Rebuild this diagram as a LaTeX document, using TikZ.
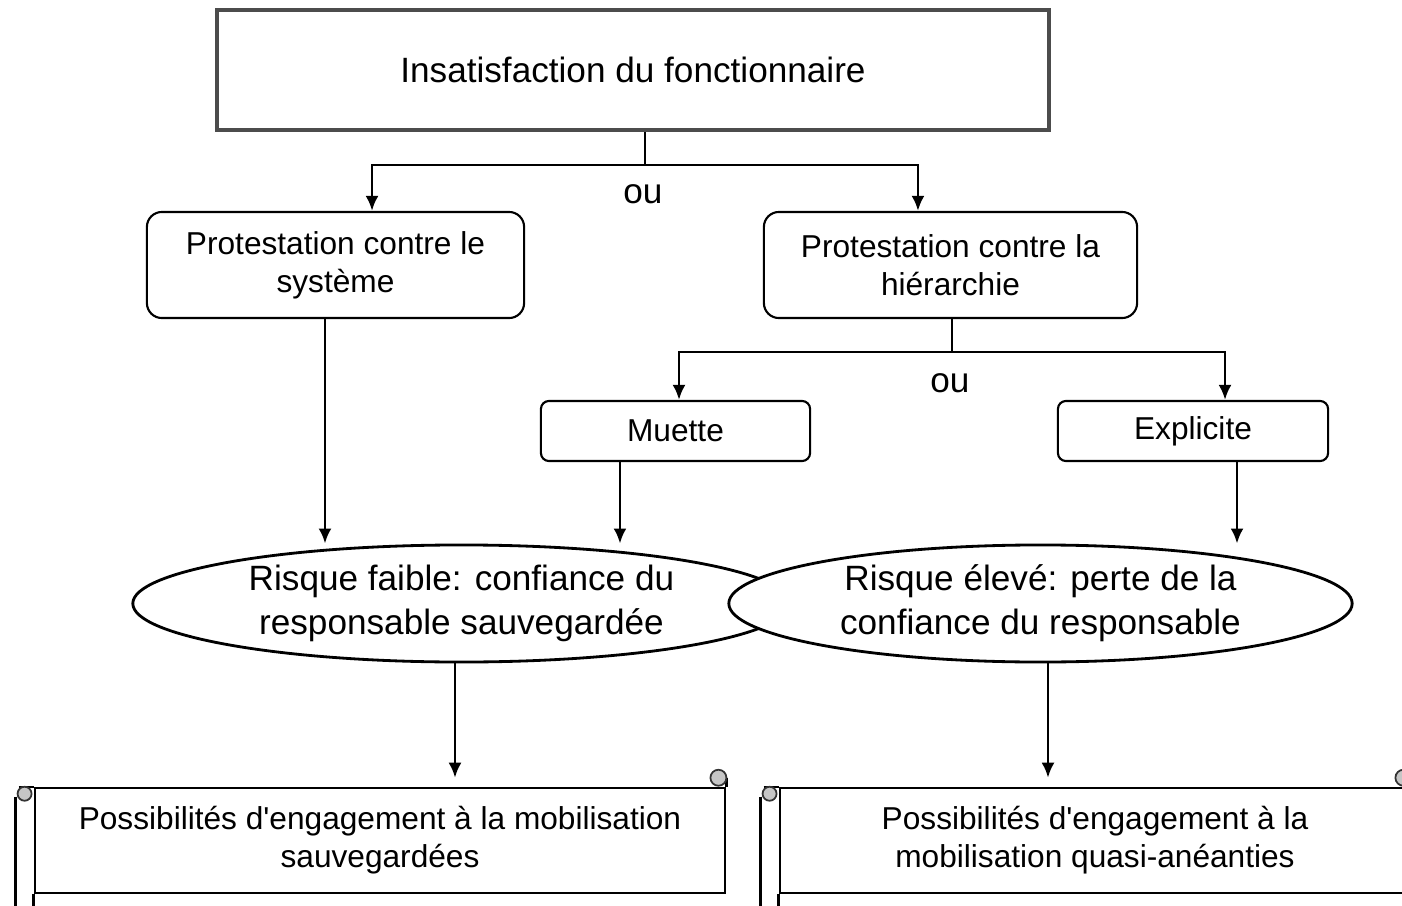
\documentclass[tikz,border=0pt]{standalone}
\usepackage{fontspec}
\setmainfont{Liberation Sans}
\usetikzlibrary{positioning, shapes.geometric, arrows.meta, calc}

\begin{document}
\begin{tikzpicture}[
	x=0.01cm, y=-0.01cm,
	topbox/.style={draw=black!70, line width=1.2pt, fill=white, minimum width=8.32cm, minimum height=1.2cm, font=\fontsize{10}{12}\selectfont},
	box/.style={draw, line width=0.6pt, fill=white, rounded corners=0.15cm, align=center, inner sep=0pt, font=\fontsize{9}{10.8}\selectfont},
	risk/.style={ellipse, draw, line width=0.8pt, fill=white, align=center, minimum height=1.17cm, inner sep=0pt, font=\fontsize{10}{12.5}\selectfont},
	scroll/.style={draw, line width=0.7pt, fill=white, align=center, minimum height=1.05cm, inner sep=0pt, font=\fontsize{9}{10.8}\selectfont},
	ou/.style={fill=white, inner sep=3pt, font=\fontsize{10}{12}\selectfont},
	arrow/.style={-{Latex[length=1.5mm,width=1.3mm]}, line width=0.8pt},
	link/.style={line width=0.8pt},
	roll/.style={line width=0.7pt},
	curl/.style={line width=0.5pt, draw=black!80, fill=gray!45}
	]
	\useasboundingbox (0,0) rectangle (1402,906);
	
	% Top
	\node[topbox] (top) at (633,70) {Insatisfaction du fonctionnaire};
	
	% First split
	\node[box, minimum width=3.77cm, minimum height=1.06cm] (sys) at (335.5,265) {Protestation contre le\\système};
	\node[box, minimum width=3.73cm, minimum height=1.06cm] (hier) at (950.5,265) {Protestation contre la\\hiérarchie};
	\coordinate (s1) at (645,165);
	\draw[link] (top.south -| s1) -- (s1);
	\draw[arrow] (s1) -| ([xshift=0.365cm]sys.north);
	\draw[arrow] (s1) -| ([xshift=-0.325cm]hier.north);
	\node[ou] (ou1) at (643,194) {ou};
	
	% Second split
	\node[box, rounded corners=0.08cm, minimum width=2.69cm, minimum height=0.6cm] (muette) at (675.5,431) {Muette};
	\node[box, rounded corners=0.08cm, minimum width=2.7cm, minimum height=0.6cm] (expl) at (1193,431) {Explicite};
	\coordinate (s2) at (952,352);
	\draw[link] (hier.south -| s2) -- (s2);
	\draw[arrow] (s2) -| ([xshift=0.035cm]muette.north);
	\draw[arrow] (s2) -| ([xshift=0.32cm]expl.north);
	\node[ou] (ou2) at (950,383) {ou};
	
	% Risks
	\node[risk, minimum width=6.57cm] (low) at (461.5,603.5) {Risque faible: confiance du\\responsable sauvegardée};
	\node[risk, minimum width=6.23cm] (high) at (1040.5,603.5) {Risque élevé: perte de la\\confiance du responsable};
	\draw[arrow] ([xshift=-0.105cm]sys.south) -- ([xshift=-0.105cm]sys.south |- low.north);
	\draw[arrow] ([xshift=-0.555cm]muette.south) -- ([xshift=-0.555cm]muette.south |- low.north);
	\draw[arrow] ([xshift=0.44cm]expl.south) -- ([xshift=0.44cm]expl.south |- high.north);
	
	% Scrolls
	\node[scroll, minimum width=6.9cm] (mobA) at (380,840.5) {Possibilités d\textquotesingle engagement à la mobilisation\\sauvegardées};
	\node[scroll, minimum width=6.3cm] (mobB) at (1095,840.5) {Possibilités d\textquotesingle engagement à la\\mobilisation quasi-anéanties};
	\foreach \s in {mobA, mobB} {
		\draw[roll] ($(\s.north west)+(-18,10)$) -- ($(\s.south west)+(-18,25)$);
		\draw[roll] (\s.south west) -- ++(0,25);
		\draw[roll] ($(\s.north west)+(-15,0)$) -- (\s.north west);
		\draw[curl] ($(\s.north west)+(-9,7)$) circle[radius=0.07cm];
		\draw[roll] ($(\s.north east)+(0,-9)$) -- (\s.north east);
		\draw[curl] ($(\s.north east)+(-8,-9)$) circle[radius=0.08cm];
	}
	\draw[arrow, shorten >=0.09cm] ([xshift=-0.065cm]low.south) -- ([xshift=-0.065cm]low.south |- mobA.north);
	\draw[arrow, shorten >=0.09cm] ([xshift=0.075cm]high.south) -- ([xshift=0.075cm]high.south |- mobB.north);
	
\end{tikzpicture}
\end{document}
